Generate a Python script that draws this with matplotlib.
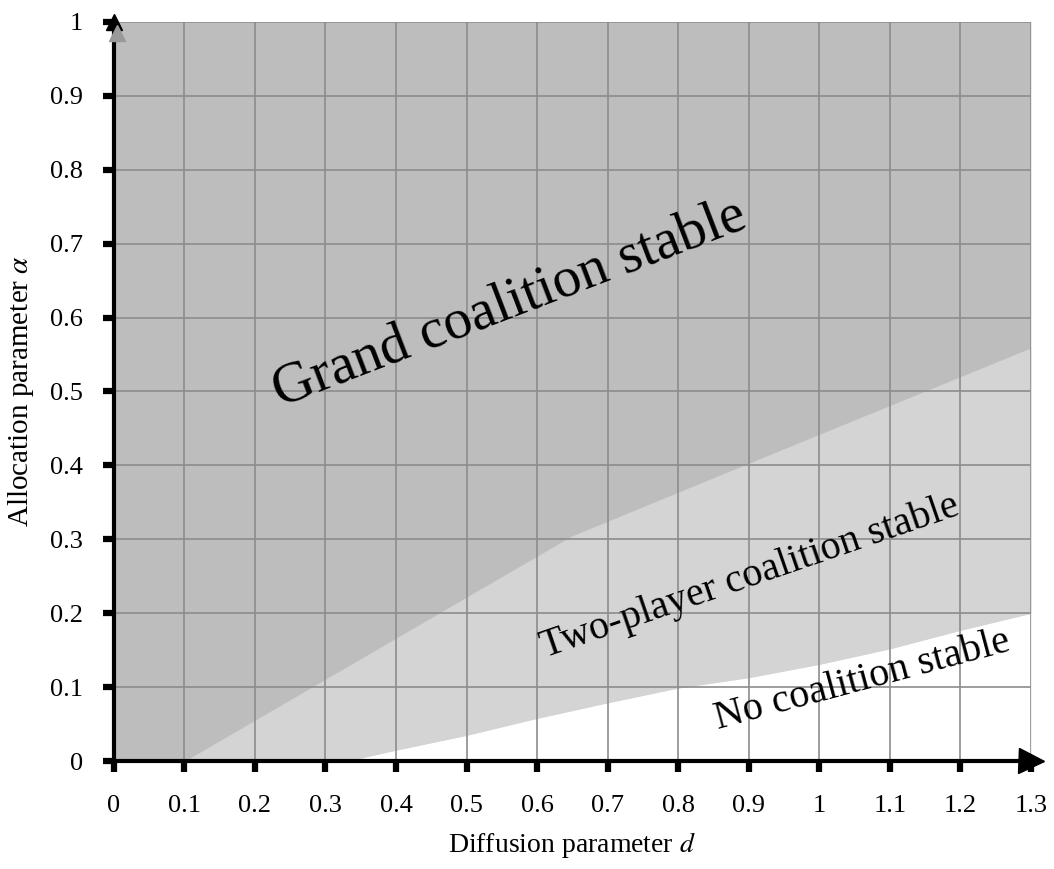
import numpy as np
import matplotlib
matplotlib.use("Agg")
import matplotlib.pyplot as plt

# boundary between grand coalition and two-player region
upper_d     = [0.1, 0.3, 0.5, 0.65, 0.9, 1.1, 1.3]
upper_alpha = [0.0, 0.111, 0.222, 0.305, 0.403, 0.481, 0.559]

# boundary between two-player region and no coalition region
lower_d     = [0.33, 0.4, 0.5, 0.6, 0.7, 0.8, 0.9, 1.0, 1.1, 1.2, 1.3]
lower_alpha = [0.0, 0.015, 0.035, 0.058, 0.079, 0.099, 0.113, 0.131, 0.152, 0.177, 0.2]

x_ticks = [0, 0.1, 0.2, 0.3, 0.4, 0.5, 0.6, 0.7, 0.8, 0.9, 1, 1.1, 1.2, 1.3]
x_ticklabels = ["0", "0.1", "0.2", "0.3", "0.4", "0.5", "0.6", "0.7", "0.8", "0.9", "1", "1.1", "1.2", "1.3"]
y_ticks = [0, 0.1, 0.2, 0.3, 0.4, 0.5, 0.6, 0.7, 0.8, 0.9, 1]
y_ticklabels = ["0", "0.1", "0.2", "0.3", "0.4", "0.5", "0.6", "0.7", "0.8", "0.9", "1"]

DARK = "#bdbdbd"
LIGHT = "#d4d4d4"
SERIF = "Liberation Serif"

plt.rcParams["font.family"] = SERIF
plt.rcParams["mathtext.fontset"] = "stix"

fig = plt.figure(figsize=(10.54, 8.69), dpi=100)
ax = fig.add_axes([0.108, 0.124, 0.87, 0.851])
ax.set_xlim(0, 1.3)
ax.set_ylim(0, 1)

# regions
grid_d = np.linspace(0, 1.3, 1301)
up = np.interp(grid_d, upper_d, upper_alpha, left=0.0)
lo = np.interp(grid_d, lower_d, lower_alpha, left=0.0)
ax.fill_between(grid_d, 0, 1, color=DARK, lw=0, zorder=0)
ax.fill_between(grid_d, lo, up, where=grid_d >= 0.1, color=LIGHT, lw=0, zorder=0.1)
ax.fill_between(grid_d, 0, lo, color="white", lw=0, zorder=0.2)

# grid
for xv in x_ticks[1:]:
    ax.axvline(xv, color="#8c8c8c", lw=1.2, zorder=1)
for yv in y_ticks[1:]:
    ax.axhline(yv, color="#8c8c8c", lw=1.2, zorder=1)

for s in ["top", "right"]:
    ax.spines[s].set_visible(False)
for s in ["left", "bottom"]:
    ax.spines[s].set_linewidth(3)
    ax.spines[s].set_color("black")
    ax.spines[s].set_zorder(3)

ax.set_xticks(x_ticks)
ax.set_xticklabels(x_ticklabels)
ax.set_yticks(y_ticks)
ax.set_yticklabels(y_ticklabels)
ax.tick_params(axis="both", direction="out", length=8, width=4.5, color="black",
               labelsize=19)
ax.tick_params(axis="x", pad=16)
ax.tick_params(axis="y", pad=14)

# axis arrows
ax.plot([1.3], [0], marker=">", color="black", markersize=18, clip_on=False, zorder=4)
ax.plot([0], [1], marker="^", color="black", markersize=12, clip_on=False, zorder=4)
ax.plot([0.005], [0.985], marker="^", color="#999999", markersize=12, clip_on=False, zorder=4)

ax.set_xlabel("Diffusion parameter $d$", fontsize=20, labelpad=10)
ax.set_ylabel(r"Allocation parameter $\alpha$", fontsize=21, labelpad=10)

ax.text(0.235, 0.479, "Grand coalition stable", fontsize=41, rotation=21,
        rotation_mode="anchor", ha="left", va="baseline", zorder=5)
ax.text(0.612, 0.14, "Two-player coalition stable", fontsize=29, rotation=19,
        rotation_mode="anchor", ha="left", va="baseline", zorder=5)
ax.text(0.857, 0.043, "No coalition stable", fontsize=29, rotation=15,
        rotation_mode="anchor", ha="left", va="baseline", zorder=5)

fig.savefig("out.png", dpi=100)
